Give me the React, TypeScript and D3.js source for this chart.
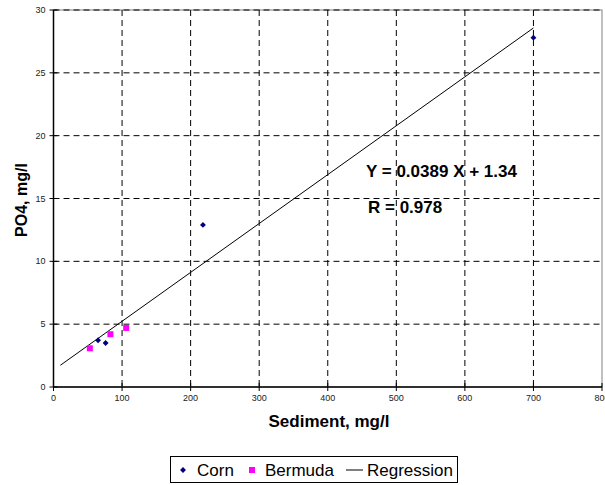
import React from "react";
import * as d3 from "d3";

const cornX = [65, 76, 218, 700];
const cornY = [3.72, 3.5, 12.9, 27.8];
const bermudaX = [53, 83, 106];
const bermudaY = [3.08, 4.2, 4.7];
const slope = 0.0389;
const intercept = 1.34;
const regX = [10, 700];
const xTicks = [0, 100, 200, 300, 400, 500, 600, 700, 800];
const yTicks = [0, 5, 10, 15, 20, 25, 30];

export default function App() {
  const W = 605, H = 485;
  const left = 53.5, right = 602, top = 10, bottom = 387;
  const x = d3.scaleLinear().domain([0, 800]).range([left, right]);
  const y = d3.scaleLinear().domain([0, 30]).range([bottom, top]);
  const line = d3.line<number>().x((d) => x(d)).y((d) => y(slope * d + intercept));
  const font = "Arial, 'Liberation Sans', sans-serif";
  const diamond = d3.symbol().type(d3.symbolDiamond2).size(22)();
  return (
    <svg width={W} height={H} style={{ position: "absolute", left: 0, top: 0 }} fontFamily={font}>
      <rect x={0} y={0} width={W} height={H} fill="#fff" />
      {/* plot border */}
      <rect x={left} y={top} width={right - left} height={bottom - top} fill="none" stroke="#808080" strokeWidth={1} />
      {/* grid */}
      {xTicks.slice(1, -1).map((t) => (
        <line key={"gx" + t} x1={x(t)} x2={x(t)} y1={top} y2={bottom} stroke="#000" strokeDasharray="6,4" strokeWidth={1} />
      ))}
      {yTicks.slice(1).map((t) => (
        <line key={"gy" + t} x1={left} x2={right} y1={y(t)} y2={y(t)} stroke="#000" strokeDasharray="6,4" strokeWidth={1} />
      ))}
      {/* axes */}
      <line x1={left} x2={left} y1={top} y2={bottom} stroke="#000" strokeWidth={1.5} />
      <line x1={left} x2={right} y1={bottom} y2={bottom} stroke="#000" strokeWidth={1.5} />
      {xTicks.map((t) => (
        <g key={"xt" + t}>
          <line x1={x(t)} x2={x(t)} y1={bottom - 4} y2={bottom + 4} stroke="#000" />
          <text x={x(t)} y={bottom + 14} fontSize={9} textAnchor="middle" fill="#222">{t}</text>
        </g>
      ))}
      {yTicks.map((t) => (
        <g key={"yt" + t}>
          <line x1={left - 4} x2={left + 4} y1={y(t)} y2={y(t)} stroke="#000" />
          <text x={left - 8} y={y(t) + 3} fontSize={9} textAnchor="end" fill="#222">{t}</text>
        </g>
      ))}
      {/* regression */}
      <path d={line(regX) || ""} fill="none" stroke="#000" strokeWidth={1} />
      {/* points */}
      {cornX.map((v, i) => (
        <path key={"c" + i} d={diamond || ""} transform={`translate(${x(v)},${y(cornY[i])})`} fill="#000080" />
      ))}
      {bermudaX.map((v, i) => (
        <rect key={"b" + i} x={x(v) - 3} y={y(bermudaY[i]) - 3} width={6} height={6} fill="#FF00FF" />
      ))}
      {/* equation */}
      <text x={366} y={177} fontSize={17} fontWeight="bold" fill="#000">Y = 0.0389 X + 1.34</text>
      <text x={368} y={213} fontSize={17} fontWeight="bold" fill="#000">R = 0.978</text>
      {/* axis titles */}
      <text x={329} y={427} fontSize={17} fontWeight="bold" textAnchor="middle">Sediment, mg/l</text>
      <text transform="translate(27,200) rotate(-90)" fontSize={16} fontWeight="bold" textAnchor="middle">PO4, mg/l</text>
      {/* legend */}
      <rect x={170.5} y={456.5} width={287} height={26} fill="#fff" stroke="#000" strokeWidth={1} />
      <path d={diamond || ""} transform="translate(183,470)" fill="#000080" />
      <text x={197} y={476} fontSize={17}>Corn</text>
      <rect x={249} y={467} width={6} height={6} fill="#FF00FF" />
      <text x={265} y={476} fontSize={17}>Bermuda</text>
      <line x1={346} x2={363} y1={470} y2={470} stroke="#000" />
      <text x={367} y={476} fontSize={17}>Regression</text>
    </svg>
  );
}
